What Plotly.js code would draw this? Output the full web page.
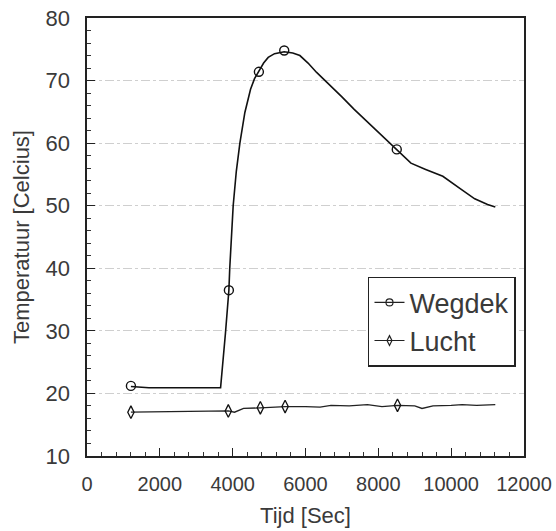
<!DOCTYPE html>
<html><head><meta charset="utf-8">
<script src="https://cdn.plot.ly/plotly-3.0.1.min.js"></script>
<style>body{margin:0;background:#fff}#c{width:556px;height:531px}</style>
</head><body><div id="c"></div>
<script>
// Wegdek (road surface) curve
const wegdekX = [1206,1450,1700,2200,2800,3300,3668,3800,3896,3920,4014,4100,4198,4335,4491,4600,4720,4850,4976,5150,5416,5650,5846,6070,6305,6657,7000,7337,7650,7922,8200,8506,8895,9300,9771,10257,10647,11000,11212];
const wegdekY = [21.1,20.95,20.9,20.9,20.9,20.9,20.9,29.5,36.5,40.0,50.0,55.5,60.0,64.9,68.6,70.3,71.4,72.8,73.7,74.3,74.6,74.4,74.0,72.8,71.3,69.4,67.4,65.4,63.7,62.2,60.7,59.0,56.8,55.8,54.7,52.7,51.1,50.2,49.8];
const wegdekMarkX = [1206,3896,4720,5416,8506];
const wegdekMarkY = [21.2,36.5,71.4,74.8,59.0];
// Lucht (air) curve
const luchtX = [1206,2000,3000,3880,4050,4300,4760,5100,5440,6000,6400,6700,7200,7700,8100,8526,9000,9200,9500,10000,10300,10700,11212];
const luchtY = [17.0,17.05,17.05,17.2,17.0,17.6,17.7,17.8,17.9,17.9,17.8,18.1,18.0,18.2,17.9,18.1,18.0,17.6,18.0,18.1,18.2,18.1,18.2];
const luchtMarkX = [1206,3880,4760,5440,8526];
const luchtMarkY = [17.0,17.2,17.7,17.9,18.1];
const seriesNames = ['Wegdek','Lucht'];
const xTickVals = [0,2000,4000,6000,8000,10000,12000];
const xTickText = ['0','2000','4000','6000','8000','10000','12000'];

const lineStyle = {color:'#111', width:1.6};
const traces = [
  {x:wegdekX, y:wegdekY, mode:'lines', line:lineStyle, showlegend:false, hoverinfo:'skip'},
  {x:wegdekMarkX, y:wegdekMarkY, mode:'markers', showlegend:false,
   marker:{symbol:'circle-open', size:9, color:'#111', line:{width:1.4}}},
  {x:luchtX, y:luchtY, mode:'lines', line:{color:'#222', width:1.3}, showlegend:false, hoverinfo:'skip'},
  {x:luchtMarkX, y:luchtMarkY, mode:'markers', showlegend:false,
   marker:{symbol:'diamond-tall-open', size:9, color:'#111', line:{width:1.3}}},
  {x:[null], y:[null], name:seriesNames[0], mode:'lines+markers', line:{color:'#222',width:1.2},
   marker:{symbol:'circle-open', size:7, color:'#222', line:{width:1.2}}},
  {x:[null], y:[null], name:seriesNames[1], mode:'lines+markers', line:{color:'#222',width:1.2},
   marker:{symbol:'diamond-tall-open', size:7, color:'#222', line:{width:1.2}}}
];

const font = 'Liberation Sans, Arial, Helvetica, sans-serif';
const layout = {
  width:556, height:531,
  margin:{l:87, r:32, t:18, b:75},
  paper_bgcolor:'#fff', plot_bgcolor:'#fff',
  font:{family:font, color:'#3a3a3a'},
  showlegend:true,
  legend:{x:0.643, y:0.409, xanchor:'left', yanchor:'top',
    bgcolor:'#fff', bordercolor:'#222', borderwidth:1.5,
    font:{size:27, color:'#3a3a3a', family:font}, itemwidth:30, tracegroupgap:0},
  xaxis:{range:[0,12000], tickvals:xTickVals, ticktext:xTickText,
    ticks:'inside', ticklen:8, tickwidth:1.2, tickcolor:'#222',
    minor:{dtick:400, ticks:'inside', ticklen:4, tickwidth:1, tickcolor:'#333'},
    showline:true, linecolor:'#222', linewidth:1.6, mirror:true,
    showgrid:false, zeroline:false,
    tickfont:{size:20, color:'#3a3a3a'}, ticklabelstandoff:9,
    title:{text:'Tijd [Sec]', font:{size:22, color:'#3a3a3a'}, standoff:14}},
  yaxis:{range:[10,80], dtick:10,
    ticks:'inside', ticklen:8, tickwidth:1.2, tickcolor:'#222',
    minor:{dtick:2, ticks:'inside', ticklen:4, tickwidth:1, tickcolor:'#333'},
    showline:true, linecolor:'#222', linewidth:1.6, mirror:true,
    showgrid:true, gridcolor:'#cfcfcf', gridwidth:1, griddash:'dashdot', zeroline:false,
    tickfont:{size:22, color:'#3a3a3a'}, ticklabelstandoff:11,
    title:{text:'Temperatuur [Celcius]', font:{size:22, color:'#3a3a3a'}, standoff:10}}
};
Plotly.newPlot('c', traces, layout, {staticPlot:true, displayModeBar:false});
</script></body></html>
